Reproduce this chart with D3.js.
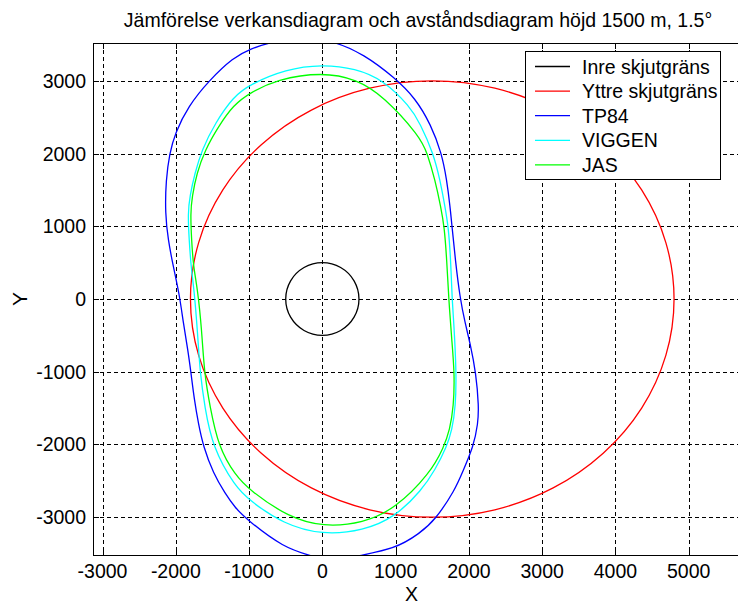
<!DOCTYPE html>
<html>
<head>
<meta charset="utf-8">
<script src="https://cdn.jsdelivr.net/npm/d3@7"></script>
<style>
  body { margin: 0; background: #fff; }
  text { font-family: "Liberation Sans", Arial, sans-serif; fill: #000; font-size: 19.5px; }
</style>
</head>
<body>
<div id="chart"></div>
<script>
// tick values and labels
var xTicks = [-3000, -2000, -1000, 0, 1000, 2000, 3000, 4000, 5000];
var xTickLabels = ["-3000", "-2000", "-1000", "0", "1000", "2000", "3000", "4000", "5000"];
var yTicks = [-3000, -2000, -1000, 0, 1000, 2000, 3000];
var yTickLabels = ["-3000", "-2000", "-1000", "0", "1000", "2000", "3000"];

// curves, [x, y]
var inre = [[500, 0], [433, 250], [250, 433], [0, 500], [-250, 433], [-433, 250], [-500, 0],
  [-433, -250], [-250, -433], [0, -500], [250, -433], [433, -250]];

var yttre = [[4800, 0], [4688, 776], [4358, 1500], [3833, 2121], [3150, 2598], [2354, 2898],
  [1500, 3000], [646, 2898], [-150, 2598], [-833, 2121], [-1358, 1500], [-1688, 776], [-1800, 0],
  [-1688, -776], [-1358, -1500], [-833, -2121], [-150, -2598], [646, -2898], [1500, -3000],
  [2354, -2898], [3150, -2598], [3833, -2121], [4358, -1500], [4688, -776]];

var tp84 = [[-670, 3540], [-250, 3620], [170, 3540], [560, 3370], [992, 3040], [1270, 2760],
  [1480, 2400], [1629, 2004], [1698, 1637], [1743, 1270], [1770, 995], [1815, 536], [1879, 10],
  [1948, -330], [2016, -605], [2098, -1022], [2135, -1480], [2125, -1710], [2061, -2031],
  [1924, -2352], [1811, -2627], [1538, -3040], [1333, -3219], [992, -3440], [423, -3540],
  [150, -3620], [-123, -3540], [-532, -3420], [-1032, -3030], [-1191, -2870], [-1328, -2673],
  [-1488, -2398], [-1624, -2031], [-1692, -1710], [-1747, -1389], [-1792, -1022], [-1835, -702],
  [-1897, -334], [-1950, 60], [-2034, 444], [-2105, 812], [-2145, 1179], [-2135, 1637],
  [-2085, 2004], [-2010, 2279], [-1835, 2645], [-1540, 3012], [-1214, 3320], [-987, 3440]];

var viggen = [[0, 3225], [450, 3170], [833, 3012], [1197, 2645], [1333, 2417], [1515, 2004],
  [1606, 1637], [1674, 1270], [1720, 995], [1752, 536], [1770, 10], [1795, -334], [1830, -1022],
  [1818, -1481], [1770, -1802], [1698, -2031], [1538, -2352], [1357, -2627], [992, -3000],
  [560, -3185], [0, -3245], [-532, -3095], [-987, -2775], [-1191, -2582], [-1501, -2031],
  [-1605, -1481], [-1669, -1022], [-1705, -426], [-1750, 124], [-1792, 444], [-1818, 812],
  [-1835, 1179], [-1810, 1407], [-1740, 1729], [-1646, 2049], [-1464, 2417], [-1214, 2783],
  [-987, 2950], [-500, 3160]];

var jas = [[0, 3120], [469, 3020], [833, 2790], [1333, 2233], [1433, 2004], [1538, 1637],
  [1616, 1270], [1665, 995], [1698, 536], [1725, 0], [1766, -564], [1805, -1022], [1792, -1481],
  [1738, -1802], [1661, -2031], [1470, -2400], [992, -2885], [560, -3080], [14, -3135],
  [-464, -3000], [-987, -2635], [-1191, -2421], [-1419, -2031], [-1533, -1481], [-1611, -1022],
  [-1646, -426], [-1701, 124], [-1760, 444], [-1785, 812], [-1800, 1179], [-1778, 1407],
  [-1714, 1729], [-1601, 2049], [-1419, 2370], [-1214, 2668], [-987, 2835], [-622, 3020]];

var seriesNames = ["Inre skjutgräns", "Yttre skjutgräns", "TP84", "VIGGEN", "JAS"];
var seriesColors = ["#000000", "#ff0000", "#0000ff", "#00ffff", "#00ff00"];
var seriesData = [inre, yttre, tp84, viggen, jas];

var width = 738, height = 606;
var plot = { left: 93, right: 740, top: 43, bottom: 555 };  // axes box

var x = d3.scaleLinear().domain([-3130, 5700]).range([plot.left, plot.right]);
var y = d3.scaleLinear().domain([-3520, 3520]).range([plot.bottom, plot.top]);

var svg = d3.select("#chart").append("svg")
  .attr("width", width)
  .attr("height", height);

svg.append("defs").append("clipPath").attr("id", "clip")
  .append("rect")
  .attr("x", plot.left).attr("y", plot.top)
  .attr("width", plot.right - plot.left).attr("height", plot.bottom - plot.top);

// text slightly stretched in height, like the matlab figure
function label(g, px, py, txt, anchor) {
  return g.append("text")
    .attr("transform", "translate(" + px + "," + py + ")scale(1,1.08)")
    .attr("text-anchor", anchor || "start")
    .text(txt);
}

// grid
var grid = svg.append("g").attr("stroke", "#000").attr("stroke-width", 1).attr("stroke-dasharray", "4,3");
grid.selectAll(".gx").data(xTicks).enter().append("line")
  .attr("x1", function (d) { return Math.round(x(d)) + 0.5; })
  .attr("x2", function (d) { return Math.round(x(d)) + 0.5; })
  .attr("y1", plot.top).attr("y2", plot.bottom);
grid.selectAll(".gy").data(yTicks).enter().append("line")
  .attr("y1", function (d) { return Math.round(y(d)) + 0.5; })
  .attr("y2", function (d) { return Math.round(y(d)) + 0.5; })
  .attr("x1", plot.left).attr("x2", plot.right);

// curves
var round = d3.line()
  .x(function (d) { return x(d[0]); })
  .y(function (d) { return y(d[1]); })
  .curve(d3.curveCardinalClosed);
var smooth = d3.line()
  .x(function (d) { return x(d[0]); })
  .y(function (d) { return y(d[1]); })
  .curve(d3.curveBasisClosed);

svg.append("g").attr("clip-path", "url(#clip)")
  .selectAll("path").data(seriesData).enter().append("path")
  .attr("d", function (d, i) { return i < 2 ? round(d) : smooth(d); })
  .attr("fill", "none")
  .attr("stroke", function (d, i) { return seriesColors[i]; })
  .attr("stroke-width", 1.3);

// axes box and inside ticks
var axes = svg.append("g").attr("stroke", "#000").attr("stroke-width", 1);
axes.append("rect")
  .attr("x", plot.left + 0.5).attr("y", plot.top + 0.5)
  .attr("width", plot.right - plot.left).attr("height", plot.bottom - plot.top)
  .attr("fill", "none");
axes.selectAll(".tb").data(xTicks).enter().append("line")
  .attr("x1", function (d) { return Math.round(x(d)) + 0.5; })
  .attr("x2", function (d) { return Math.round(x(d)) + 0.5; })
  .attr("y1", plot.bottom).attr("y2", plot.bottom - 6);
axes.selectAll(".tt").data(xTicks).enter().append("line")
  .attr("x1", function (d) { return Math.round(x(d)) + 0.5; })
  .attr("x2", function (d) { return Math.round(x(d)) + 0.5; })
  .attr("y1", plot.top).attr("y2", plot.top + 6);
axes.selectAll(".tl").data(yTicks).enter().append("line")
  .attr("y1", function (d) { return Math.round(y(d)) + 0.5; })
  .attr("y2", function (d) { return Math.round(y(d)) + 0.5; })
  .attr("x1", plot.left).attr("x2", plot.left + 6);

// tick labels
xTicks.forEach(function (d, i) { label(svg, x(d), 578, xTickLabels[i], "middle"); });
yTicks.forEach(function (d, i) { label(svg, 86, y(d) + 7, yTickLabels[i], "end"); });

// axis titles
svg.append("text").attr("x", (plot.left + plot.right) / 2 - 5).attr("y", 601)
  .attr("text-anchor", "middle").text("X");
svg.append("text").attr("transform", "translate(27,299)rotate(-90)scale(1.08,1)")
  .attr("text-anchor", "middle").text("Y");
label(svg, 418, 27, "Jämförelse verkansdiagram och avståndsdiagram höjd 1500 m, 1.5°", "middle");

// legend
var legend = svg.append("g");
legend.append("rect")
  .attr("x", 525.5).attr("y", 51.5).attr("width", 195).attr("height", 128)
  .attr("fill", "#fff").attr("stroke", "#000");
seriesNames.forEach(function (name, i) {
  var ry = 66.5 + i * 24.6;
  legend.append("line")
    .attr("x1", 535).attr("x2", 570).attr("y1", ry).attr("y2", ry)
    .attr("stroke", seriesColors[i])
    .attr("stroke-width", 1.3);
  label(legend, 582, ry + 7, name);
});
</script>
</body>
</html>
